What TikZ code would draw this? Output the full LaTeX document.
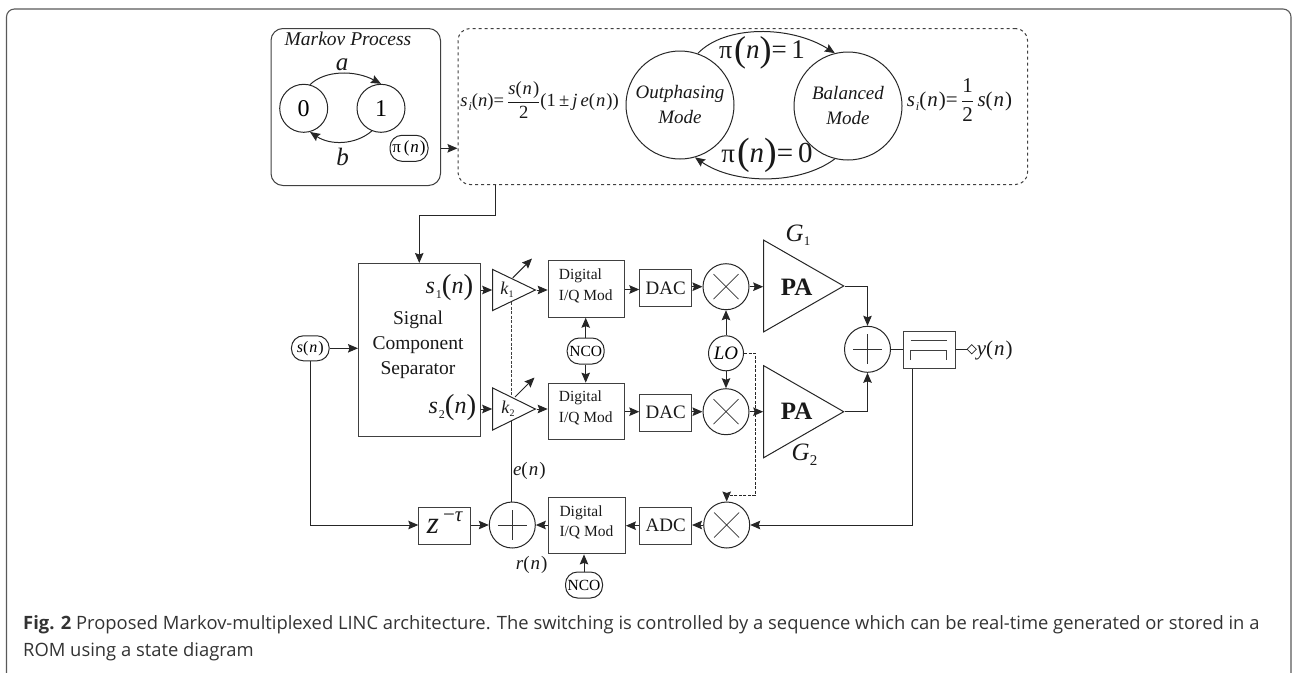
\documentclass[tikz,border=0pt]{standalone}
\usepackage{fontspec}
\usetikzlibrary{arrows.meta,shapes.geometric,positioning,calc}
\setmainfont{Liberation Serif}
\newfontfamily\capfont{Open Sans}
\newcommand\fs[1]{\fontsize{#1}{#1}\selectfont}
\newcommand\fn[1]{\textit{#1}(\kern1pt\textit{n}\kern1pt)}
\newcommand\subs[3]{\textit{#1}\kern1pt\raisebox{-#3pt}{\fs{12}#2}}
\newcommand\bpar[3]{\raisebox{-#2pt}{\fs{#1}#3}}
\tikzset{
  x=1pt,y=-1pt,
  ln/.style={draw=black!85,line width=1pt},
  arr/.style={ln,-{Stealth[length=10pt,width=8.5pt,inset=1.5pt]}},
  boxr/.style={ln,rectangle,inner sep=0pt,anchor=north west,draw=black!75},
  circ/.style={ln,circle,inner sep=0pt,minimum size=#1},
  pill/.style={ln,rectangle,rounded corners=12pt,inner sep=0pt,minimum width=#1,minimum height=26pt},
  tri/.style={ln,isosceles triangle,isosceles triangle stretches,inner sep=0pt,anchor=apex},
  txt/.style={inner sep=0pt,text=black!90},
  modtxt/.style={inner sep=0pt,anchor=west,text=black!90,font=\fs{15.5}},
  captxt/.style={inner sep=0pt,anchor=west,text=black!80,font=\capfont\fs{18.38}},
}
\newcommand\cross[1]{\draw[line width=0.7pt,black!80] ($(#1)+(-12.5,-12.5)$) -- ($(#1)+(12.5,12.5)$) ($(#1)+(12.5,-12.5)$) -- ($(#1)+(-12.5,12.5)$);}
\newcommand\plusmark[1]{\draw[line width=0.7pt,black!80] ($(#1)+(-14.5,0)$) -- ($(#1)+(14.5,0)$) ($(#1)+(0,-15)$) -- ($(#1)+(0,15)$);}
\begin{document}
\begin{tikzpicture}
\useasboundingbox (0,0) rectangle (1292,672);
% outer frame
\draw[line width=1.1pt,black!65,rounded corners=8pt] (6.5,673) -- (6.5,9) -- (1291,9) -- (1291,673);
% top boxes
\node[boxr,rounded corners=12pt,minimum width=169.5pt,minimum height=157pt] (markov) at (270.5,28) {};
\node[boxr,dashed,rounded corners=12pt,minimum width=569.5pt,minimum height=156pt] (modes) at (457.5,28) {};
\node[txt,font=\itshape\fs{19.5}] (mtitle) at (348,39) {Markov Process};
\node[circ=48pt] (c0) at (303.7,108.3) {\fs{24}0};
\node[circ=48pt] (c1) at (381,108.3) {\fs{24}1};
\draw[arr] (c0.75) .. controls (325,70) and (355,70) .. (c1.90);
\draw[arr] (c1.248) .. controls (355,145.3) and (330,145.3) .. (c0.285);
\node[txt,font=\itshape\fs{25}] (la) at (342,65) {a};
\node[txt,font=\itshape\fs{25}] (lb) at (342.7,157) {b};
\node[pill=38pt] (pin) at (409,148.3) {\fs{17}π\,(\kern1pt\textit{n}\kern1pt)};
\draw[arr] (markov.east |- pin) -- (modes.west |- pin);
% modes
\node[txt,font=\fs{18.6}] (f1) at (539.5,100) {\subs{s}{\textit{i}}{4}(\textit{n})=\,$\displaystyle\frac{\hbox{\fn{s}}}{\hbox{2}}$(1\,±\,\textit{j}\,\fn{e})};
\node[circ=108pt,align=center,font=\itshape\fs{19},text=black!90] (om) at (680,105) {Outphasing\\[6pt]Mode};
\node[circ=108pt,align=center,font=\itshape\fs{19},text=black!90] (bm) at (848,106) {Balanced\\[6pt]Mode};
\draw[arr] (om.71) .. controls (725,25) and (790,25) .. (bm.104);
\draw[arr] (bm.256) .. controls (800,185) and (735,185) .. (om.286);
\node[txt,font=\fs{27}] (p1) at (762,52.5) {{\fs{26}π}\kern2pt\bpar{36}{2.5}{(}\textit{n}\bpar{36}{2.5}{)}=\,1};
\node[txt,font=\fs{29}] (p0) at (767,155.5) {{\fs{27}π}\kern2pt\bpar{38}{2.5}{(}\textit{n}\bpar{38}{2.5}{)}=\,0};
\node[txt,font=\fs{21}] (f2) at (959.5,100) {\subs{s}{\textit{i}}{4}(\kern1pt\textit{n}\kern1pt)=\,$\displaystyle\frac{\hbox{1}}{\hbox{2}}$\,\fn{s}};
% signal separator
\node[boxr,minimum width=121.5pt,minimum height=173pt] (sig) at (358,263) {};
\coordinate (bendy) at (495.7,215);
\draw[arr] (modes.south -| bendy) -- (bendy) -| (sig.north);
\node[txt,font=\fs{19.5}] (t1) at (418,320) {Signal};
\node[txt,font=\fs{19.5}] (t2) at (418,345) {Component};
\node[txt,font=\fs{19.5}] (t3) at (418,370) {Separator};
\node[txt,anchor=east,font=\fs{24}] (s1) at (473.5,288) {\subs{s}{1}{5}\bpar{29}{1.2}{(}\textit{n}\bpar{29}{1.2}{)}};
\node[txt,anchor=east,font=\fs{24}] (s2) at (476.5,408) {\subs{s}{2}{5}\bpar{29}{1.2}{(}\textit{n}\bpar{29}{1.2}{)}};
% variable gains
\node[tri,minimum height=42.7pt,minimum width=41pt] (k1) at (536.7,290) {};
\node[tri,minimum height=42.7pt,minimum width=42pt] (k2) at (536.7,409) {};
\node[txt,font=\fs{18}] (k1t) at (507,290) {\textit{k}\raisebox{-3pt}{\fs{10}1}};
\node[txt,font=\fs{18}] (k2t) at (508,409) {\textit{k}\raisebox{-3pt}{\fs{10}2}};
\coordinate (v1a) at (512.7,278); \coordinate (v1b) at (532,258.5);
\coordinate (v2a) at (515,397); \coordinate (v2b) at (534.5,377.5);
\draw[arr] (v1a) -- (v1b);
\draw[arr] (v2a) -- (v2b);
% modulators
\node[boxr,minimum width=76.6pt,minimum height=56.7pt] (mod1) at (547.7,260) {};
\node[boxr,minimum width=76.6pt,minimum height=56.7pt] (mod2) at (547.7,382.7) {};
\node[boxr,minimum width=76.6pt,minimum height=56.7pt] (mod3) at (548.3,496.7) {};
\node[modtxt] (m1a) at (558.7,276) {Digital};
\node[modtxt] (m1b) at (558.7,296) {I/Q Mod};
\node[modtxt] (m2a) at (558.7,398) {Digital};
\node[modtxt] (m2b) at (558.7,418) {I/Q Mod};
\node[modtxt] (m3a) at (559.3,512.7) {Digital};
\node[modtxt] (m3b) at (559.3,532.7) {I/Q Mod};
\draw[arr] (sig.east |- k1.west) -- (k1.west);
\draw[arr] (sig.east |- k2.west) -- (k2.west);
\draw[arr] (k1.apex) -- (mod1.west |- k1.apex);
\draw[arr] (k2.apex) -- (mod2.west |- k2.apex);
% NCOs
\node[pill=37pt,font=\fs{15.5}] (nco1) at (585.7,351) {NCO};
\node[pill=37pt,font=\fs{15.5}] (nco3) at (584,585) {NCO};
\draw[arr] (nco1) -- (mod1.south -| nco1);
\draw[arr] (nco1) -- (mod2.north -| nco1);
\draw[arr] (nco3) -- (mod3.south -| nco3);
% DACs
\node[boxr,minimum width=51.7pt,minimum height=37pt,font=\fs{19}] (dac1) at (639.3,269) {};
\node[txt,font=\fs{19}] (dac1t) at (dac1) {DAC};
\node[boxr,minimum width=51.7pt,minimum height=37pt] (dac2) at (639.3,393.5) {};
\node[txt,font=\fs{19}] (dac2t) at (dac2) {DAC};
\node[boxr,minimum width=51.7pt,minimum height=37pt] (adc) at (639.3,506.7) {};
\node[txt,font=\fs{19}] (adct) at (adc) {ADC};
\coordinate (y1) at (0,289.5); \coordinate (y2) at (0,411.7);
\draw[arr] (mod1.east |- y1) -- (dac1.west |- y1);
\draw[arr] (mod2.east |- y2) -- (dac2.west |- y2);
% mixers
\node[circ=46pt] (mx1) at (726,286.7) {};
\node[circ=46pt] (mx2) at (726,411.7) {};
\node[circ=46pt] (mx3) at (726.7,525) {};
\cross{mx1}\cross{mx2}\cross{mx3}
\draw[arr] (dac1.east |- mx1) -- (mx1.west);
\draw[arr] (dac2.east |- mx2) -- (mx2.west);
\node[circ=35pt,font=\itshape\fs{19}] (lo) at (726,353.3) {LO};
\draw[arr] (lo) -- (mx1);
\draw[arr] (lo) -- (mx2);
% PAs
\node[tri,minimum height=80pt,minimum width=91.7pt] (pa1) at (845,286) {};
\node[tri,minimum height=80pt,minimum width=92pt] (pa2) at (845,411.7) {};
\node[txt,font=\bfseries\fs{25}] (pa1t) at (796.7,287.7) {PA};
\node[txt,font=\bfseries\fs{25}] (pa2t) at (796.7,411) {PA};
\node[txt,font=\fs{25}] (g1) at (798,235) {\textit{G}\raisebox{-4pt}{\fs{13}1}};
\node[txt,font=\fs{25}] (g2) at (804.5,455) {\textit{G}\raisebox{-5pt}{\fs{15}2}};
\draw[arr] (mx1.east) -- (pa1.west |- mx1);
\draw[arr] (mx2.east) -- (pa2.west |- mx2);
% combiner and filter
\node[circ=46pt] (sum) at (867.5,349.3) {};
\plusmark{sum}
\draw[arr] (pa1.apex) -| (sum.north);
\draw[arr] (pa2.apex) -| (sum.south);
\node[boxr,minimum width=51.7pt,minimum height=37pt] (flt) at (903.3,331) {};
\draw[ln] (sum.east) -- (flt.west |- sum);
\coordinate (fa) at (910.7,340.7); \coordinate (fb) at (946.7,340.7);
\coordinate (fc) at (910.7,360); \coordinate (fd) at (946.7,360);
\draw[line width=0.9pt,black!75] (fa) -- (fb);
\draw[line width=0.9pt,black!75] (fc) -- (fc |- 0,350) -- (fd |- 0,350) -- (fd);
\node[diamond,ln,inner sep=0pt,minimum size=9.5pt,line width=0.7pt] (dm) at (971.7,349.3) {};
\draw[ln] (flt.east |- dm) -- (dm.west);
\node[txt,font=\fs{21},anchor=west] (yn) at (976.7,350) {\fn{y}};
% feedback path
\coordinate (fbx) at (912.3,368);
\draw[arr] (flt.south -| fbx) |- (mx3.east);
\draw[arr,line width=0.8pt,dash pattern=on 3pt off 1.5pt] (lo.east) -- (755,353.3) |- (mx3.north |- 0,495.7) -- (mx3.north);
\draw[arr] (mx3.west) -- (adc.east |- mx3);
\draw[arr] (adc.west) -- (mod3.east |- adc);
% summing node and delay
\node[circ=46pt] (sum2) at (512.3,525) {};
\plusmark{sum2}
\draw[arr] (mod3.west |- sum2) -- (sum2.east);
\node[boxr,minimum width=51.7pt,minimum height=37.3pt] (zb) at (418.3,506.7) {};
\node[txt,font=\itshape\fs{31}] (zt) at (433,526.5) {z};
\node[txt,font=\fs{21}] (zs) at (453,517) {−\textit{τ}};
\draw[arr] (zb.east |- sum2) -- (sum2.west);
\node[pill=37.7pt,minimum height=25pt,font=\fs{16}] (sn) at (310.3,348.3) {\fn{s}};
\draw[arr] (sn.east) -- (sig.west |- sn);
\draw[arr] (sn.south) |- (zb.west |- sum2);
\coordinate (k2foot) at (511.7,421.3);
\draw[ln] (sum2.north -| k2foot) -- (k2foot);
\coordinate (da) at (511.7,302); \coordinate (db) at (511.7,396.7);
\draw[line width=0.8pt,black!75,dash pattern=on 3pt off 1.5pt] (da) -- (db);
\node[txt,font=\fs{19}] (en) at (529.3,471) {\fn{e}};
\node[txt,font=\fs{19}] (rn) at (531.7,565) {\fn{r}};
% caption
\node[captxt] (capa) at (23,625) {\textbf{Fig. 2} Proposed Markov-multiplexed LINC architecture. The switching is controlled by a sequence which can be real-time generated or stored in a};
\node[captxt] (capb) at (23,651.5) {ROM using a state diagram};
\end{tikzpicture}
\end{document}
